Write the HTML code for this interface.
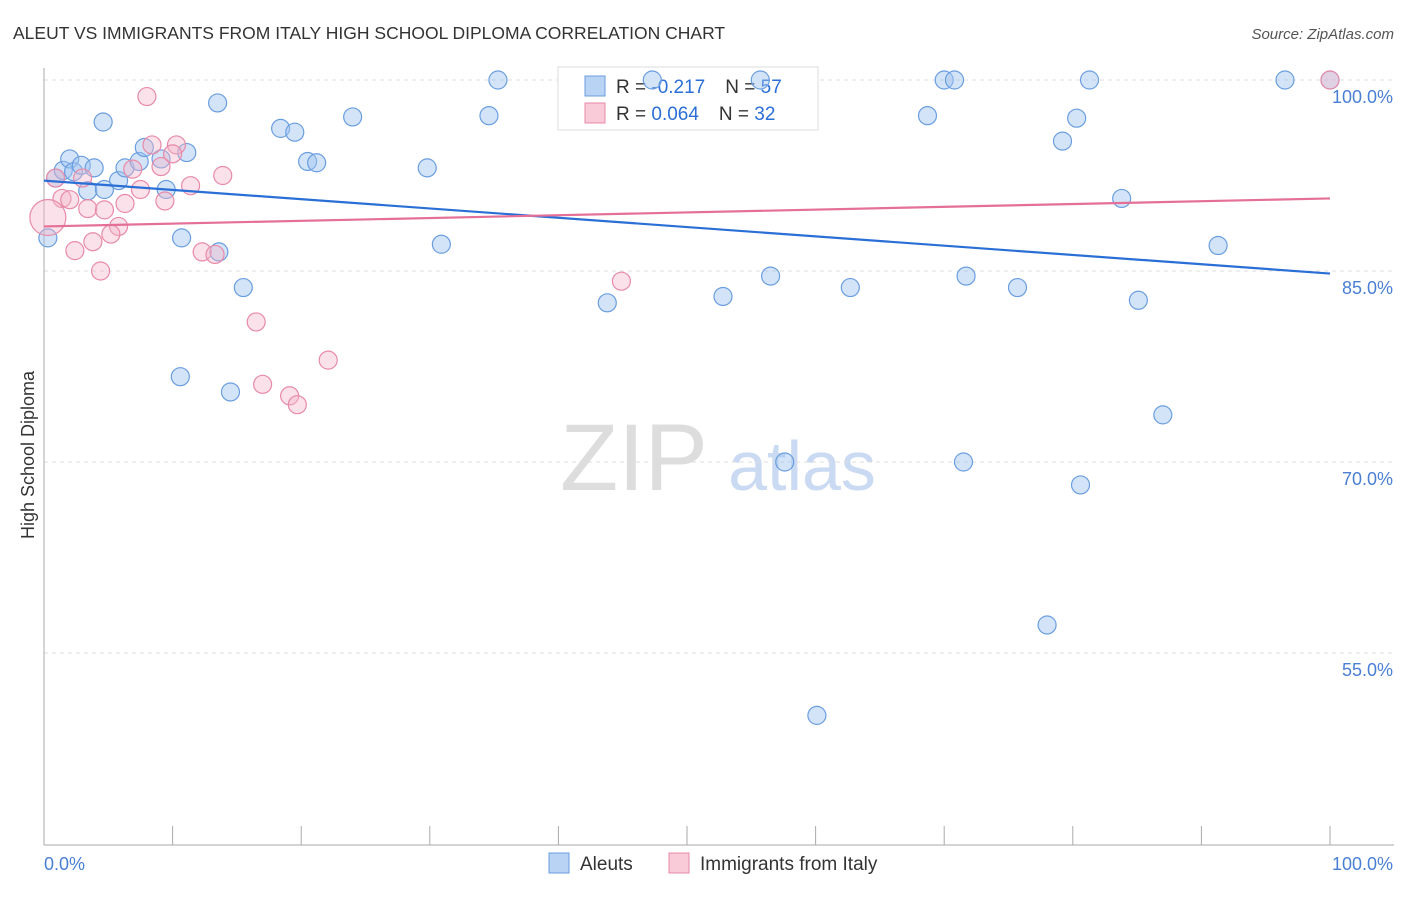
<!DOCTYPE html>
<html><head><meta charset="utf-8"><style>
body{margin:0;background:#fff;font-family:"Liberation Sans",sans-serif;}
svg text{font-family:"Liberation Sans",sans-serif;}
</style></head><body>
<svg id="chart" width="1406" height="892">
<text x="13" y="39" font-size="17.5" fill="#333">ALEUT VS IMMIGRANTS FROM ITALY HIGH SCHOOL DIPLOMA CORRELATION CHART</text>
<text x="1394" y="39" font-size="15" fill="#555" text-anchor="end" font-style="italic">Source: ZipAtlas.com</text>
<text x="0" y="0" transform="translate(34,455) rotate(-90)" font-size="18" fill="#333" text-anchor="middle">High School Diploma</text>
<text x="634" y="490" font-size="95" fill="#ddd" font-family="Liberation Serif" text-anchor="middle">ZIP</text>
<text x="802" y="490" font-size="70" fill="#c9daf2" text-anchor="middle">atlas</text>
<g id="grid"></g><g id="axes"></g>
<g>
<rect x="558" y="67" width="260" height="63" fill="#fff" stroke="#ddd"/>
<rect x="585" y="76" width="20" height="20" fill="#b9d3f5" stroke="#6a9ee0"/>
<rect x="585" y="103" width="20" height="20" fill="#f9cad8" stroke="#e88aa8"/>
<text x="616" y="93" font-size="19" fill="#333">R = <tspan fill="#2a6fd6">-0.217</tspan><tspan dx="20">N = </tspan><tspan fill="#2a6fd6">57</tspan></text>
<text x="616" y="120" font-size="19" fill="#333">R = <tspan fill="#2a6fd6"> 0.064</tspan><tspan dx="20">N = </tspan><tspan fill="#2a6fd6">32</tspan></text>
</g>
<g id="pts"></g><g id="lines"></g>
<g>
<rect x="549" y="853" width="20" height="20" fill="#b9d3f5" stroke="#6a9ee0"/>
<text x="580" y="870" font-size="19" fill="#333">Aleuts</text>
<rect x="669" y="853" width="20" height="20" fill="#f9cad8" stroke="#e88aa8"/>
<text x="700" y="870" font-size="19" fill="#333">Immigrants from Italy</text>
</g>
</svg>
<script>
const yTicks=[100,85,70,55];
const yTickLabels=["100.0%","85.0%","70.0%","55.0%"];
const xLabels=["0.0%","100.0%"];
const blueX=[0.3,0.9,1.5,2.0,2.3,2.9,3.4,3.9,4.6,4.7,5.8,6.3,7.4,7.8,9.1,9.5,10.7,11.1,10.6,13.5,13.6,14.5,15.5,18.4,19.5,20.5,21.2,24.0,29.8,30.9,34.6,35.3,43.8,47.3,52.8,55.7,56.5,57.6,60.1,62.7,68.7,70.0,70.8,71.5,71.7,75.7,78.0,79.2,80.3,80.6,81.3,83.8,85.1,87.0,91.3,96.5,100];
const blueY=[87.6,92.3,92.9,93.8,92.8,93.3,91.3,93.1,96.7,91.4,92.1,93.1,93.6,94.7,93.8,91.4,87.6,94.3,76.7,98.2,86.5,75.5,83.7,96.2,95.9,93.6,93.5,97.1,93.1,87.1,97.2,100,82.5,100,83.0,100,84.6,70.0,50.1,83.7,97.2,100,100,70.0,84.6,83.7,57.2,95.2,97.0,68.2,100,90.7,82.7,73.7,87.0,100,100];
const pinkX=[8.0,8.4,10.3,10.0,9.1,6.9,7.5,11.4,13.9,9.4,6.3,3.0,0.9,1.4,2.0,0.3,3.4,4.7,5.8,5.2,3.8,2.4,4.4,12.3,13.3,44.9,16.5,22.1,17.0,19.1,19.7,100];
const pinkY=[98.7,94.9,94.9,94.2,93.2,93.0,91.4,91.7,92.5,90.5,90.3,92.3,92.3,90.7,90.6,89.2,89.9,89.8,88.5,87.9,87.3,86.6,85.0,86.5,86.3,84.2,81.0,78.0,76.1,75.2,74.5,100];
const blueTrend=[92.1,84.8];
const pinkTrend=[88.5,90.7];
const X=v=>44+v*12.86;
const Y=v=>80+(100-v)*191/15;
const NS="http://www.w3.org/2000/svg";
function mk(tag,attrs,parent){const e=document.createElementNS(NS,tag);for(const k in attrs)e.setAttribute(k,attrs[k]);document.getElementById(parent).appendChild(e);return e;}
yTicks.forEach((t,i)=>{
 const l=mk('line',{x1:44,x2:1394,y1:Y(t),y2:Y(t),stroke:'#ddd','stroke-dasharray':'4,4'},'grid');
 
 
 const tx=mk('text',{x:1393,y:Y(t)+23,'font-size':18,fill:'#4a7fd4','text-anchor':'end'},'grid');
 tx.textContent=yTickLabels[i];
 
 
});
const ax=mk('line',{x1:44,x2:44,y1:68,y2:845,stroke:'#aaa'},'axes');


const bx=mk('line',{x1:44,x2:1394,y1:845,y2:845,stroke:'#aaa'},'axes');


for(let i=0;i<=10;i++){
 const tk=mk('line',{x1:X(i*10),x2:X(i*10),y1:826,y2:845,stroke:'#aaa'},'axes');
 
 
}
const xl0=mk('text',{x:44,y:870,'font-size':18,fill:'#4a7fd4'},'axes');xl0.textContent=xLabels[0];


const xl1=mk('text',{x:1393,y:870,'font-size':18,fill:'#4a7fd4','text-anchor':'end'},'axes');xl1.textContent=xLabels[1];


blueX.forEach((x,i)=>{
 const c=mk('circle',{cx:X(x),cy:Y(blueY[i]),r:9,fill:'rgba(160,196,240,0.45)',stroke:'#6a9ee0','stroke-width':1.2},'pts');
 
 
});
pinkX.forEach((x,i)=>{
 const c=mk('circle',{cx:X(x),cy:Y(pinkY[i]),r:(i==15?18:9),fill:'rgba(244,180,200,0.4)',stroke:'#e88aa8','stroke-width':1.2},'pts');
 
 
});
const bl=mk('line',{x1:X(0),x2:X(100),y1:Y(blueTrend[0]),y2:Y(blueTrend[1]),stroke:'#2a6fd6','stroke-width':2.2},'lines');


const pl=mk('line',{x1:X(0),x2:X(100),y1:Y(pinkTrend[0]),y2:Y(pinkTrend[1]),stroke:'#e46f97','stroke-width':2.2},'lines');


</script>
</body></html>
